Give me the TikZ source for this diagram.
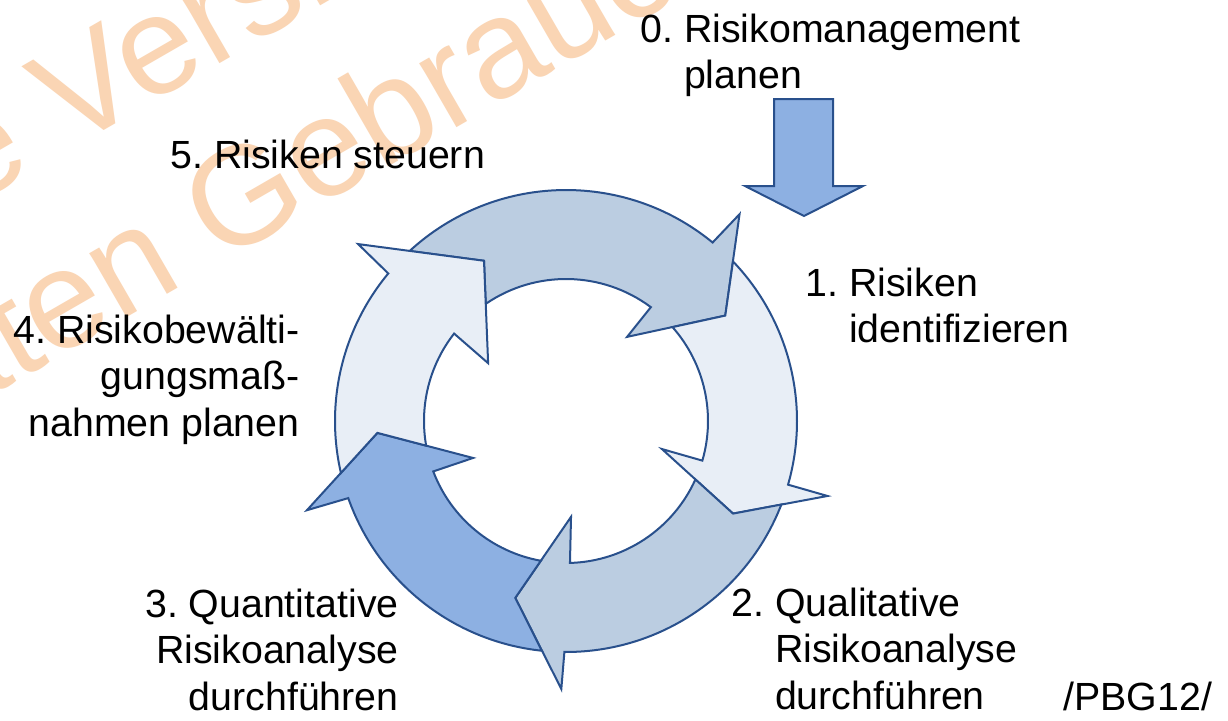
\documentclass[tikz,border=0pt]{standalone}
\usepackage{fontspec}
\setmainfont{Liberation Sans}
\definecolor{ringline}{RGB}{41,80,140}
\definecolor{ringlight}{RGB}{232,238,246}
\definecolor{ringmid}{RGB}{187,205,225}
\definecolor{ringdark}{RGB}{141,176,226}
\definecolor{wmark}{RGB}{250,213,180}
\tikzset{
    ringpart/.style = {draw=ringline, line width=1pt, line join=miter},
    arrlight/.style = {ringpart, fill=ringlight},
    arrmid/.style = {ringpart, fill=ringmid},
    arrdark/.style = {ringpart, fill=ringdark},
    lbl/.style = {inner sep=0pt, font=\fontsize{19.65}{23.25}\selectfont},
    wm/.style = {inner sep=0pt, text=wmark, font=\fontsize{70}{80}\selectfont}
}

\begin{document}
\begin{tikzpicture}[x=0.5pt, y=0.5pt]
    \useasboundingbox (0,0) rectangle (1228,720);
    \fill[white] (0,0) rectangle (1228,720);
    \clip (0,0) rectangle (1228,720);

    \node[wm, anchor=base west, rotate=30] (wm1) at (-32,511) {e Version};
    \node[wm, anchor=base west, rotate=30] (wm2) at (-246,187) {privaten Gebrauch};

    \begin{scope}[shift={(566,299)}]
        \draw[arrmid] (132.6:231) arc[start angle=132.6, end angle=50.6, radius=231]
            -- (50:270) -- (33.5:191) -- (54:104) -- (53.3:142)
            arc[start angle=53.3, end angle=124.4, radius=142] -- (117.1:180) -- cycle;
        \draw[arrlight] (43.7:231) arc[start angle=43.7, end angle=-16, radius=231]
            -- (-16:272) -- (-29:191) -- (-16.3:100) -- (-16.2:142)
            arc[start angle=-16.2, end angle=41.4, radius=142] -- (33.5:191) -- cycle;
        \draw[arrmid] (-21.2:231) arc[start angle=-21.2, end angle=-90.4, radius=231]
            -- (-91:268) -- (-106:184) -- (-87:96) -- (-88.4:142)
            arc[start angle=-88.4, end angle=-24.3, radius=142] -- (-29:191) -- cycle;
        \draw[arrdark] (-96:231) arc[start angle=-96, end angle=-160.5, radius=231]
            -- (-161:274) -- (-176.4:189) -- (-158.3:100) -- (-159.2:142)
            arc[start angle=-159.2, end angle=-100.2, radius=142] -- (-106:184) -- cycle;
        \draw[arrlight] (193:231) arc[start angle=193, end angle=140.3, radius=231]
            -- (139.6:273) -- (117.1:180) -- (143.4:97) -- (142:142)
            arc[start angle=142, end angle=190, radius=142] -- (183.6:189) -- cycle;
    \end{scope}

    \draw[arrdark] (774,621) -- (833,621) -- (833,534) -- (863,534) -- (804,504)
        -- (745,534) -- (774,534) -- cycle;

    \node[lbl, anchor=base west] (plan) at (640,678)
        {0.\ \begin{tabular}[t]{@{}l@{}}Risikomanagement\\planen\end{tabular}};
    \node[lbl, anchor=base west] (ident) at (805,424)
        {1.\ \begin{tabular}[t]{@{}l@{}}Risiken\\identifizieren\end{tabular}};
    \node[lbl, anchor=base west] (quali) at (731,104)
        {2.\ \begin{tabular}[t]{@{}l@{}}Qualitative\\Risikoanalyse\\durchführen\end{tabular}};
    \node[lbl, anchor=base east] (quanti) at (399,103)
        {\begin{tabular}[t]{@{}r@{}}3.\ Quantitative\\Risikoanalyse\\durchführen\end{tabular}};
    \node[lbl, anchor=base east] (massn) at (300,377)
        {\begin{tabular}[t]{@{}r@{}}4.\ Risikobewälti-\\gungsmaß-\\nahmen planen\end{tabular}};
    \node[lbl, anchor=base west] (steuern) at (170,552) {5.\ Risiken steuern};
    \node[lbl, anchor=base west] (quelle) at (1063,10) {/PBG12/};
\end{tikzpicture}
\end{document}
